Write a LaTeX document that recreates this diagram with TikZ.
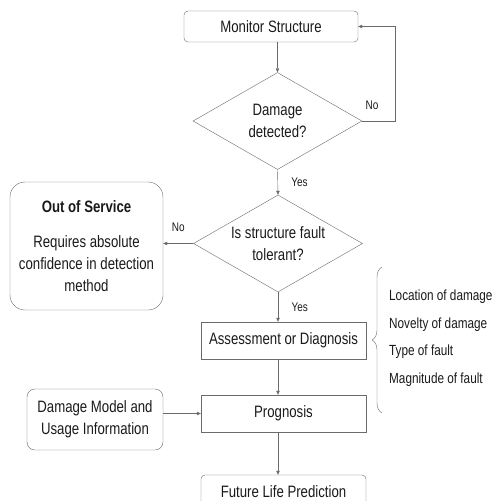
\documentclass[tikz,border=0pt]{standalone}
\usepackage{fontspec}
\setmainfont{Liberation Sans}[FakeStretch=0.8]
\usepackage{xcolor}
\usepackage{tikz}
\usetikzlibrary{positioning, arrows.meta, shapes.geometric, decorations.pathreplacing}

\definecolor{linegray}{HTML}{6A6A6A}
\definecolor{textgray}{HTML}{1A1A1A}

\begin{document}
\begin{tikzpicture}[x=1pt, y=-1pt]
			
			% Styles
			\tikzset{
				box/.style={
					rectangle, draw=linegray, thin,
					minimum width=165pt, minimum height=37pt,
					align=center, text=textgray, font=\fontsize{16.5}{22}\selectfont
				},
				roundbox/.style={box, rounded corners=4pt},
				decision/.style={
					diamond, draw=linegray, thin, inner sep=0pt, aspect=1.74,
					minimum width=169pt, minimum height=97pt,
					align=center, text=textgray, font=\fontsize{16.5}{22}\selectfont
				},
				sidebox/.style={
					rectangle, draw=linegray, thin, align=center,
					text=textgray, font=\fontsize{16.5}{22}\selectfont
				},
				arrow/.style={draw=linegray, thin, -{Triangle[length=4pt, width=3.5pt]}},
				labelbox/.style={
					draw=none, fill=none, text=textgray, font=\fontsize{12.5}{14}\selectfont
				},
				itembox/.style={
					draw=none, anchor=west, inner sep=0pt, text=textgray,
					font=\fontsize{14.7}{17}\selectfont
				}
			}
			
			\useasboundingbox (0,0) rectangle (494,501);
			
			% Main chain
			\node (monitor) [roundbox, minimum width=174pt, minimum height=31pt] at (271,26.5) {Monitor Structure};
			\node (detect) [decision] at (277.5,121) {Damage\\detected?};
			\node (tolerant) [decision] at (278,243.5) {Is structure fault\\tolerant?};
			\node (assess) [box] at (283.5,340.5) {Assessment or Diagnosis};
			\node (prog) [box] at (283.5,413.5) {Prognosis};
			\node (future) [roundbox, minimum height=33pt] at (283.5,491.5) {Future Life Prediction};
			
			% Side boxes
			\node (service) [sidebox, rounded corners=15pt, minimum width=153pt, minimum height=128pt] at (86.5,246)
				{\textbf{Out of Service}\\[13pt]Requires absolute\\confidence in detection\\method};
			\node (model) [sidebox, rounded corners=8pt, minimum width=136pt, minimum height=61pt] at (95,419.5)
				{Damage Model and\\Usage Information};
			
			% Diagnosis items
			\node (loc) [itembox] at (389,297) {Location of damage};
			\node (nov) [itembox] at (389,325) {Novelty of damage};
			\node (type) [itembox] at (389,352) {Type of fault};
			\node (mag) [itembox] at (389,380) {Magnitude of fault};
			\coordinate (brtop) at (382,267);
			\coordinate (brbot) at (382,413);
			\draw[linegray, thin, decorate, decoration={brace, amplitude=10pt}] (brbot) -- (brtop);
			
			% Arrows with labels
			\draw[arrow] (detect.north |- monitor.south) -- (detect.north);
			\draw[arrow] (detect.south) -- node[labelbox, right=10pt] {Yes} (tolerant.north);
			\draw[arrow] (detect.east) -- node[labelbox, above=8pt, pos=0.3] {No} ++(33,0) |- (monitor.east);
			\draw[arrow] (tolerant.west) -- node[labelbox, above=8pt] {No} (service.east |- tolerant.west);
			\draw[arrow] (tolerant.south) -- node[labelbox, right=10pt] {Yes} (tolerant.south |- assess.north);
			\draw[arrow] (tolerant.south |- assess.south) -- (tolerant.south |- prog.north);
			\draw[arrow] (model.east |- prog.west) -- (prog.west);
			\draw[arrow] (tolerant.south |- prog.south) -- (tolerant.south |- future.north);
			
		\end{tikzpicture}
\end{document}
